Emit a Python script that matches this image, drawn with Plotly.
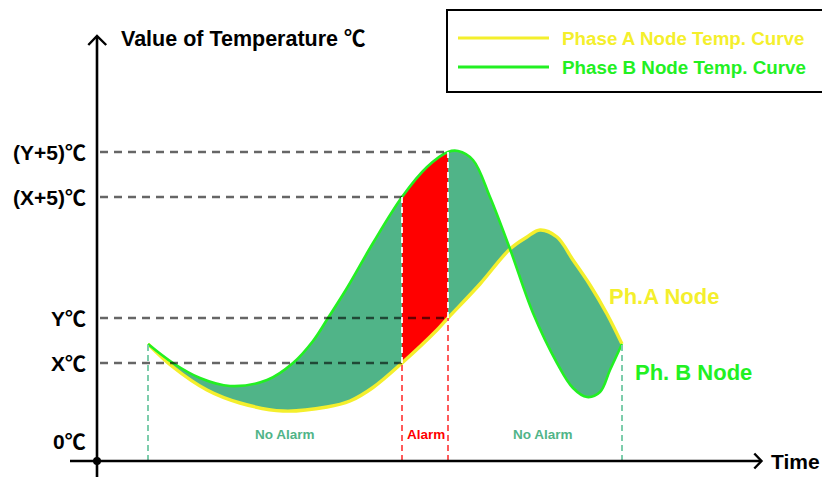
import plotly.graph_objects as go

# ---- data (time units, temperature units) ----
time_a = [5.1, 7.6, 11.0, 14.3, 18.6, 23.0, 25.3, 27.6, 30.5, 34.0, 35.1, 38.3, 41.3, 43.0, 44.3, 46.0, 47.6, 49.3, 51.0, 52.5]
temp_a = [9.7, 7.4, 5.1, 3.8, 3.0, 3.4, 4.0, 5.35, 7.8, 11.1, 12.3, 15.7, 19.2, 20.4, 21.1, 20.4, 18.1, 15.6, 12.7, 9.7]

time_b = [5.1, 7.6, 10.3, 13.3, 17.0, 19.6, 21.6, 23.1, 25.0, 27.6, 30.5, 33.0, 35.1, 36.1, 37.6, 39.3, 41.3, 43.6, 46.0, 47.6, 49.0, 50.3, 51.3, 52.5]
temp_b = [9.7, 7.8, 6.3, 5.5, 6.1, 7.8, 10.0, 12.3, 15.3, 19.8, 24.4, 27.4, 28.9, 29.0, 28.1, 24.4, 19.2, 12.8, 7.8, 5.3, 4.4, 4.9, 7.1, 9.7]

alarm_start = 30.5
alarm_end = 35.1
t_start = 5.1
t_end = 52.5

tick_vals = [0, 7.8, 12.3, 24.4, 28.9]
tick_text = ["0℃", "X℃", "Y℃", "(X+5)℃", "(Y+5)℃"]
ref_ends = [None, alarm_start, alarm_end, alarm_start, alarm_end]

region_labels = ["No Alarm", "Alarm", "No Alarm"]
region_centers = [18.8, 32.85, 44.6]

legend_names = ["Phase A Node Temp. Curve", "Phase B Node Temp. Curve"]

# ---- styles ----
YELLOW = "#f4ef2c"
GREEN = "#22f022"
TEAL = "rgb(80,180,136)"
TEAL_LIGHT = "rgb(125,205,172)"
RED = "#ff0000"
RED_DASH = "#ff5a5a"
FONT = "Liberation Sans, Arial, Noto Sans CJK SC, sans-serif"

axis_y = -2.0
x_range = [-9.7, 72.5]
y_range = [-3.6, 44.1]

fig = go.Figure()

# fill base + teal fill between curves
fig.add_trace(go.Scatter(x=time_a, y=temp_a, mode="lines", line=dict(width=0, shape="spline", color=YELLOW)))
fig.add_trace(go.Scatter(x=time_b, y=temp_b, mode="lines", line=dict(width=0, shape="spline", color=GREEN),
                         fill="tonexty", fillcolor=TEAL))

# red alarm region
ra = [(t, v) for t, v in zip(time_a, temp_a) if alarm_start <= t <= alarm_end]
rb = [(t, v) for t, v in zip(time_b, temp_b) if alarm_start <= t <= alarm_end]
fig.add_trace(go.Scatter(x=[p[0] for p in ra], y=[p[1] for p in ra], mode="lines",
                         line=dict(width=0, shape="spline", color=RED)))
fig.add_trace(go.Scatter(x=[p[0] for p in rb], y=[p[1] for p in rb], mode="lines",
                         line=dict(width=0, shape="spline", color=RED), fill="tonexty", fillcolor=RED))

# curve lines
fig.add_trace(go.Scatter(x=time_a, y=temp_a, mode="lines", line=dict(width=3.4, shape="spline", color=YELLOW)))
fig.add_trace(go.Scatter(x=time_b, y=temp_b, mode="lines", line=dict(width=2.6, shape="spline", color=GREEN)))

# origin dot
fig.add_trace(go.Scatter(x=[0], y=[axis_y], mode="markers", marker=dict(size=8, color="black")))

shapes = []
# horizontal reference dashed lines
for v, end in zip(tick_vals, ref_ends):
    if end is None:
        continue
    shapes.append(dict(type="line", xref="x", yref="y", x0=0.3, x1=end, y0=v, y1=v,
                       line=dict(color="rgba(0,0,0,0.6)", width=2.5, dash="8px,6px"), layer="above"))

# vertical dashed lines
a_at = dict(zip(time_a, temp_a))
b_at = dict(zip(time_b, temp_b))
for t in (t_start, t_end):
    shapes.append(dict(type="line", xref="x", yref="y", x0=t, x1=t, y0=axis_y, y1=a_at[t],
                       line=dict(color=TEAL_LIGHT, width=2, dash="6px,4px"), layer="above"))
for t in (alarm_start, alarm_end):
    shapes.append(dict(type="line", xref="x", yref="y", x0=t, x1=t, y0=axis_y, y1=a_at[t],
                       line=dict(color=RED_DASH, width=2, dash="6px,4px"), layer="above"))
    shapes.append(dict(type="line", xref="x", yref="y", x0=t, x1=t, y0=a_at[t], y1=b_at[t],
                       line=dict(color="white", width=1.8, dash="6px,4px"), layer="above"))

# axes
shapes.append(dict(type="line", xref="x", yref="y", x0=0, x1=0, y0=-3.7, y1=40.5,
                   line=dict(color="black", width=2.6), layer="above"))
shapes.append(dict(type="line", xref="x", yref="y", x0=-2.7, x1=66.4, y0=axis_y, y1=axis_y,
                   line=dict(color="black", width=2.6), layer="above"))
shapes.append(dict(type="path", xref="x", yref="y",
                   path="M -0.87,39.6 L 0,40.5 L 0.92,39.6",
                   line=dict(color="black", width=2.4), layer="above"))
shapes.append(dict(type="path", xref="x", yref="y",
                   path="M 65.73,-1.25 L 66.45,-2.0 L 65.73,-2.75",
                   line=dict(color="black", width=2.4), layer="above"))


def px(x):
    return x / 822.0


def py(y):
    return 1 - y / 477.0


# legend box (manual)
shapes.append(dict(type="rect", xref="paper", yref="paper", x0=px(447), x1=px(830), y0=py(92), y1=py(10),
                   line=dict(color="black", width=2), fillcolor="white", layer="above"))
for yy, col in ((38, YELLOW), (67, GREEN)):
    shapes.append(dict(type="line", xref="paper", yref="paper", x0=px(458), x1=px(549), y0=py(yy), y1=py(yy),
                       line=dict(color=col, width=3), layer="above"))

annotations = []
for v, txt in zip(tick_vals, tick_text):
    annotations.append(dict(x=-0.9, y=v, xref="x", yref="y", text=txt, showarrow=False,
                            xanchor="right", yanchor="middle",
                            font=dict(family=FONT, size=21, color="black", weight="bold")))
annotations.append(dict(x=2.2, y=40.2, xref="x", yref="y",
                        text="Value of Temperature ℃", showarrow=False,
                        xanchor="left", yanchor="middle",
                        font=dict(family=FONT, size=21.5, color="black", weight="bold")))
annotations.append(dict(x=67.2, y=axis_y, xref="x", yref="y", text="Time", showarrow=False,
                        xanchor="left", yanchor="middle",
                        font=dict(family=FONT, size=21, color="black", weight="bold")))
for txt, c in zip(region_labels, region_centers):
    annotations.append(dict(x=c, y=0.7, xref="x", yref="y", text=txt, showarrow=False,
                            xanchor="center", yanchor="middle",
                            font=dict(family=FONT, size=13.5, color=RED if txt == "Alarm" else TEAL,
                                      weight="bold")))
annotations.append(dict(x=51.0, y=14.5, xref="x", yref="y", text="Ph.A Node", showarrow=False,
                        xanchor="left", yanchor="middle",
                        font=dict(family=FONT, size=22, color=YELLOW, weight="bold")))
annotations.append(dict(x=53.6, y=6.9, xref="x", yref="y", text="Ph. B Node", showarrow=False,
                        xanchor="left", yanchor="middle",
                        font=dict(family=FONT, size=22, color=GREEN, weight="bold")))
for yy, col, name in ((38, YELLOW, legend_names[0]), (67, GREEN, legend_names[1])):
    annotations.append(dict(x=px(560), y=py(yy), xref="paper", yref="paper", text=name, showarrow=False,
                            xanchor="left", yanchor="middle",
                            font=dict(family=FONT, size=18.8, color=col, weight="bold")))

fig.update_layout(
    width=822, height=477, autosize=False,
    margin=dict(l=0, r=0, t=0, b=0, pad=0),
    paper_bgcolor="white", plot_bgcolor="white",
    showlegend=False, hovermode=False,
    xaxis=dict(range=x_range, visible=False, fixedrange=True),
    yaxis=dict(range=y_range, visible=False, fixedrange=True),
    shapes=shapes, annotations=annotations,
)

fig.write_html("out.html", config={"displayModeBar": False},
               post_script="document.body.style.margin='0';")
